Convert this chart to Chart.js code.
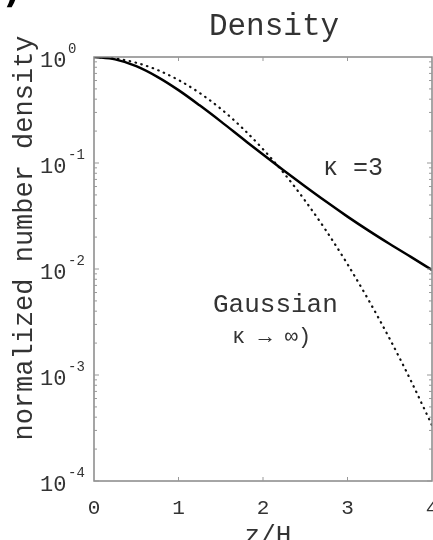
<!DOCTYPE html>
<html>
<head>
<meta charset="utf-8">
<script src="https://cdn.jsdelivr.net/npm/chart.js@4"></script>
<style>
  body { margin: 0; background: #fff; }
  #wrap { width: 433px; height: 540px; position: relative; }
</style>
</head>
<body>
<div id="wrap"><canvas id="densityChart"></canvas></div>
<script>
// values
const zValues = [0, 0.25, 0.5, 0.75, 1, 1.25, 1.5, 1.75, 2, 2.25, 2.5, 2.75, 3, 3.25, 3.5, 3.75, 4];
const kappa3Density = [1, 0.95, 0.82, 0.65, 0.487, 0.35, 0.247, 0.172, 0.12, 0.0845, 0.06, 0.043, 0.0312, 0.023, 0.0172, 0.013, 0.0098];
const gaussianDensity = [1, 0.969, 0.8825, 0.755, 0.6065, 0.458, 0.325, 0.216, 0.135, 0.0796, 0.0439, 0.0228, 0.0111, 0.00508, 0.00219, 0.000884, 0.000335];
const xTickValues = [0, 1, 2, 3, 4];
const yTickValues = [1, 0.1, 0.01, 0.001, 0.0001];
const yTickExponents = ['0', '-1', '-2', '-3', '-4'];

const mono = '"Liberation Mono", "DejaVu Sans Mono", monospace';

const toPoints = (ys) => zValues.map((z, i) => ({ x: z, y: ys[i] }));

// box, inward ticks, y labels with exponents, and the texts around the plot
const framePlugin = {
  id: 'frame',
  afterDraw(chart) {
    const { ctx, chartArea: a, scales } = chart;
    const xs = scales.x, ys = scales.y;
    ctx.save();

    ctx.strokeStyle = '#888';
    ctx.lineWidth = 1.5;
    ctx.strokeRect(a.left, a.top, a.right - a.left, a.bottom - a.top);

    ctx.strokeStyle = '#999';
    ctx.lineWidth = 1;
    ctx.beginPath();
    xTickValues.slice(1, -1).forEach(v => {
      const px = xs.getPixelForValue(v);
      ctx.moveTo(px, a.bottom); ctx.lineTo(px, a.bottom - 4);
      ctx.moveTo(px, a.top); ctx.lineTo(px, a.top + 4);
    });
    yTickValues.forEach(dec => {
      for (let m = 1; m < 10; m++) {
        const v = dec * m;
        if (v >= 1) continue;
        const py = ys.getPixelForValue(v);
        const len = m === 1 ? 5 : 3;
        ctx.moveTo(a.left, py); ctx.lineTo(a.left + len, py);
        ctx.moveTo(a.right, py); ctx.lineTo(a.right - len, py);
      }
    });
    ctx.stroke();

    ctx.fillStyle = '#333';
    ctx.textAlign = 'left';
    ctx.textBaseline = 'middle';
    yTickValues.forEach((v, i) => {
      const py = ys.getPixelForValue(v);
      ctx.font = '22px ' + mono;
      ctx.fillText('10', 40, py + 4);
      ctx.font = '14px ' + mono;
      ctx.fillText(yTickExponents[i], 68, py - 8);
    });

    ctx.textAlign = 'center';
    ctx.font = '31px ' + mono;
    ctx.fillText('Density', 274, 27);

    ctx.font = '26px ' + mono;
    ctx.textBaseline = 'alphabetic';
    ctx.fillText('z/H', 268, 543);

    ctx.save();
    ctx.translate(25, 238);
    ctx.rotate(-Math.PI / 2);
    ctx.textBaseline = 'middle';
    ctx.font = '27px ' + mono;
    ctx.fillText('normalized number density', 0, 0);
    ctx.restore();

    ctx.textAlign = 'left';
    ctx.textBaseline = 'middle';
    ctx.font = '25px ' + mono;
    ctx.fillText('\u03BA =3', 323, 168);
    ctx.font = '26px ' + mono;
    ctx.fillText('Gaussian', 213, 305);
    ctx.font = '22px ' + mono;
    ctx.fillText('\u03BA \u2192 \u221E)', 232, 337);

    ctx.fillStyle = '#000';
    ctx.font = 'bold 34px "DejaVu Sans"';
    ctx.textBaseline = 'alphabetic';
    ctx.fillText(')', 4, 3);
    ctx.restore();
  }
};

new Chart(document.getElementById('densityChart'), {
  type: 'line',
  data: {
    datasets: [
      {
        label: 'kappa = 3',
        data: toPoints(kappa3Density),
        borderColor: '#000',
        borderWidth: 2.5,
        pointRadius: 0,
        cubicInterpolationMode: 'monotone'
      },
      {
        label: 'Gaussian',
        data: toPoints(gaussianDensity),
        borderColor: '#111',
        borderWidth: 2.2,
        borderDash: [0.5, 5.5],
        borderCapStyle: 'round',
        pointRadius: 0,
        cubicInterpolationMode: 'monotone'
      }
    ]
  },
  options: {
    responsive: true,
    maintainAspectRatio: false,
    animation: false,
    layout: { padding: { left: 40, top: 57, right: 1, bottom: 0 } },
    plugins: {
      legend: { display: false },
      tooltip: { enabled: false }
    },
    scales: {
      x: {
        type: 'linear',
        min: 0,
        max: 4,
        grid: { display: false, drawTicks: false },
        border: { display: false },
        afterBuildTicks: (s) => { s.ticks = xTickValues.map(v => ({ value: v })); },
        afterFit: (s) => { s.height = 59; s.paddingLeft = 0; s.paddingRight = 0; },
        ticks: {
          padding: 15,
          maxRotation: 0,
          autoSkip: false,
          color: '#333',
          font: { family: mono, size: 21 }
        }
      },
      y: {
        type: 'logarithmic',
        min: 0.0001,
        max: 1,
        grid: { display: false, drawTicks: false },
        border: { display: false },
        afterBuildTicks: (s) => { s.ticks = yTickValues.map(v => ({ value: v })); },
        afterFit: (s) => { s.width = 54; s.paddingTop = 0; s.paddingBottom = 0; },
        ticks: { display: false }
      }
    }
  },
  plugins: [framePlugin]
});
</script>
</body>
</html>
